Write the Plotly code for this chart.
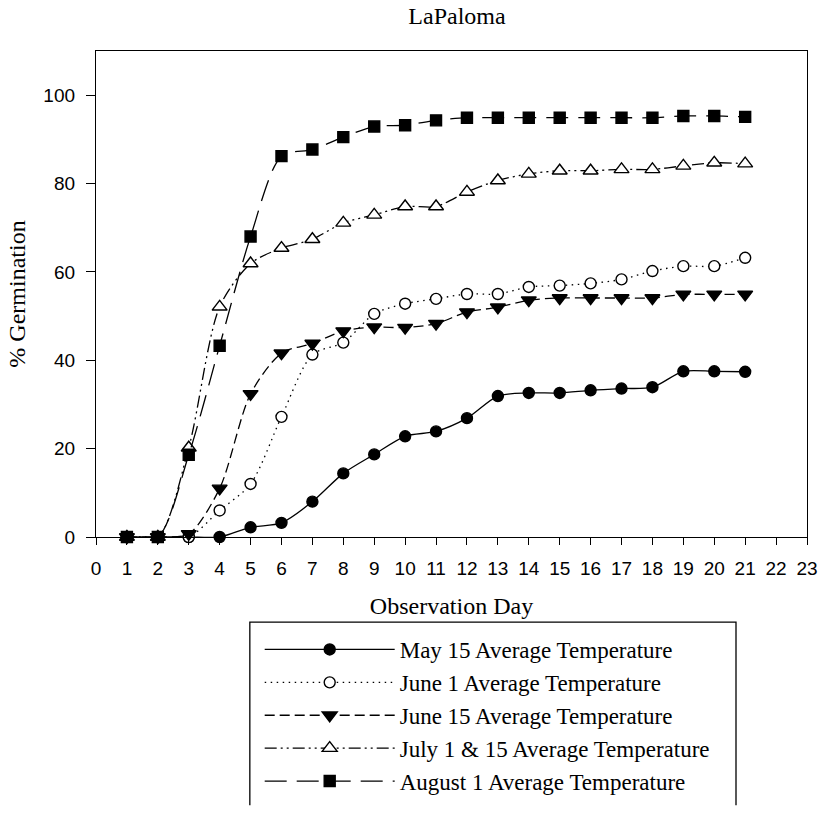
import plotly.graph_objects as go

days = list(range(1, 22))
may15 = [0, 0, 0, 0, 2.2, 3.2, 8.0, 14.4, 18.7, 22.8, 23.9, 26.9, 31.9, 32.6, 32.6, 33.2, 33.6, 33.9, 37.5, 37.5, 37.4]
june1 = [0, 0, 0, 6.0, 12.0, 27.2, 41.3, 44.0, 50.5, 52.8, 53.9, 55.0, 55.0, 56.6, 56.9, 57.4, 58.3, 60.2, 61.3, 61.3, 63.2]
june15 = [0, 0, 0.7, 11.0, 32.4, 41.6, 43.8, 46.6, 47.5, 47.4, 48.3, 50.9, 52.0, 53.6, 54.1, 54.1, 54.1, 54.1, 54.9, 54.9, 54.9]
july = [0, 0, 20.2, 52.1, 61.9, 65.4, 67.4, 71.1, 72.9, 74.8, 74.8, 78.1, 80.7, 82.2, 82.9, 82.9, 83.2, 83.2, 84.0, 84.7, 84.5]
aug1 = [0, 0, 18.6, 43.3, 68.0, 86.2, 87.7, 90.5, 92.9, 93.2, 94.3, 94.9, 94.9, 94.9, 94.9, 94.9, 94.9, 94.9, 95.3, 95.3, 95.1]

names = ["May 15 Average Temperature", "June 1 Average Temperature",
         "June 15 Average Temperature", "July 1 & 15 Average Temperature",
         "August 1 Average Temperature"]
x_ticks = list(range(0, 24))
y_ticks = [0, 20, 40, 60, 80, 100]

series = [may15, june1, june15, july, aug1]
dashes = ["solid", "1.5px,4.5px", "10px,5px", "12px,4px,2px,4px,2px,4px", "22px,10px"]
symbols = ["circle", "circle-open", "triangle-down", "triangle-up-open", "square"]
sizes = [11, 11, 13, 13, 11]

fig = go.Figure()
for name, ys, dash, sym, sz in zip(names, series, dashes, symbols, sizes):
    open_sym = sym.endswith("-open")
    fig.add_trace(go.Scatter(
        x=days, y=ys, name=name, mode="lines+markers",
        line=dict(color="black", width=1.3, dash=dash, shape="spline", smoothing=0.8),
        marker=dict(symbol=sym.replace("-open", ""), size=sz,
                    color="white" if open_sym else "black",
                    line=dict(color="black", width=1.4)),
        cliponaxis=False,
    ))

SERIF = "Liberation Serif, Times New Roman, serif"
SANS = "Liberation Sans, Arial, sans-serif"

# legend frame: open at the bottom (cut by the page edge in the original)
lx0, lx1 = (252 - 96) / 721, (745 - 96) / 721
ly0, ly1 = (553 - 641) / 502, (553 - 830) / 502
frame_path = f"M {lx0},{ly1} L {lx0},{ly0} L {lx1},{ly0} L {lx1},{ly1}"

fig.update_layout(
    width=830, height=815,
    margin=dict(l=96, r=13, t=51, b=262),
    paper_bgcolor="white", plot_bgcolor="white",
    title=dict(text="LaPaloma", x=457 / 830, xanchor="center", y=1 - 16 / 815,
               yref="container", yanchor="middle",
               font=dict(family=SERIF, size=24, color="black")),
    xaxis=dict(range=[0, 23], tickvals=x_ticks, ticktext=[str(t) for t in x_ticks],
               showgrid=False, zeroline=False, showline=True, linecolor="black",
               linewidth=1.3, mirror=True, ticks="outside", ticklen=7, tickwidth=1.3,
               tickcolor="black", ticklabelstandoff=7,
               tickfont=dict(family=SANS, size=19, color="black"),
               title=dict(text="Observation Day", standoff=19,
                          font=dict(family=SERIF, size=24, color="black"))),
    yaxis=dict(range=[0, 110], tickvals=y_ticks, showgrid=False, zeroline=False,
               showline=True, linecolor="black", linewidth=1.3, mirror=True,
               ticks="outside", ticklen=9, tickwidth=1.3, tickcolor="black",
               ticklabelstandoff=7,
               tickfont=dict(family=SANS, size=19, color="black"),
               title=dict(text="% Germination", standoff=10,
                          font=dict(family=SERIF, size=24, color="black"))),
    showlegend=True,
    legend=dict(x=(262 - 96) / 721, xanchor="left", y=(553 - 647) / 502, yanchor="top",
                bgcolor="rgba(0,0,0,0)", borderwidth=0, itemwidth=130,
                font=dict(family=SERIF, size=23, color="black"),
                tracegroupgap=0),
    shapes=[dict(type="path", xref="paper", yref="paper", path=frame_path,
                 line=dict(color="black", width=1.3), layer="above")],
)

fig.write_html("out.html", config={"displayModeBar": False},
               post_script="document.body.style.margin='0';document.body.style.overflow='hidden';")
